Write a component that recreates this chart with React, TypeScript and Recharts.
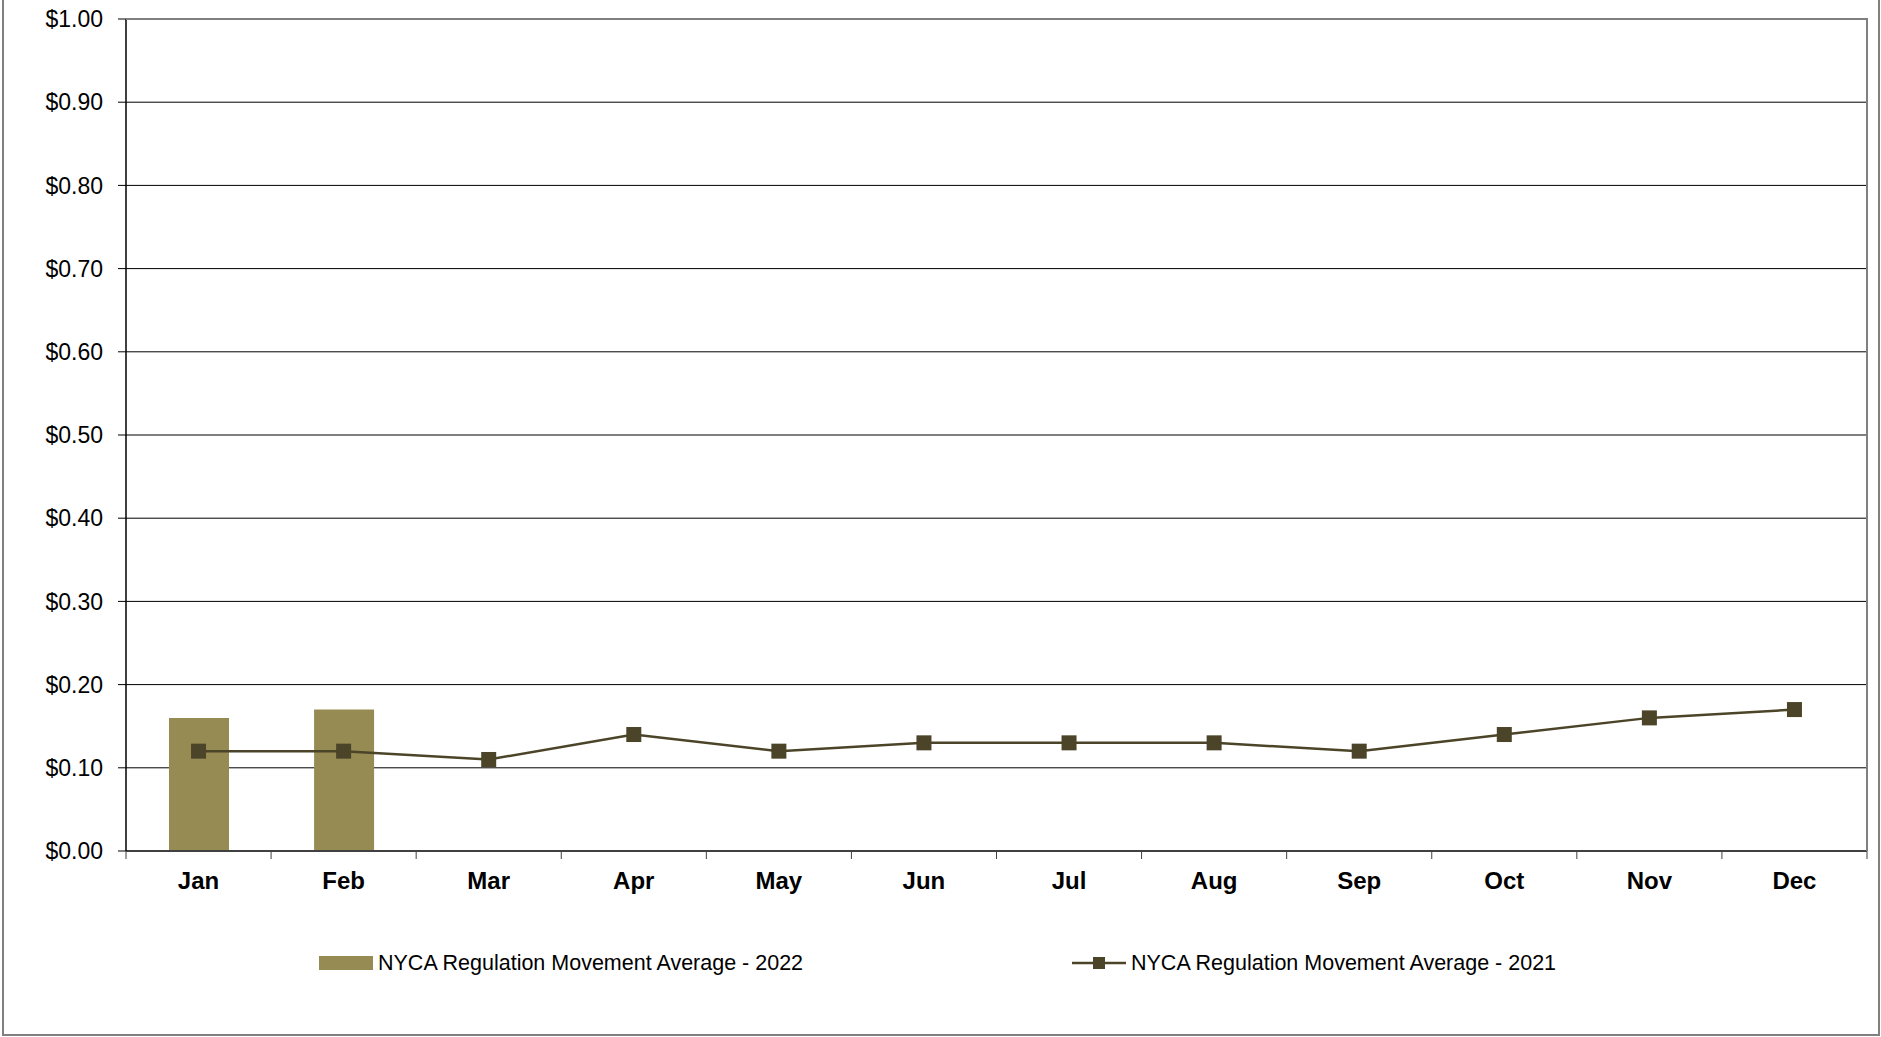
import React from 'react';
import { ComposedChart, Bar, Line, XAxis, YAxis, CartesianGrid } from 'recharts';

const MONTHS = ['Jan', 'Feb', 'Mar', 'Apr', 'May', 'Jun', 'Jul', 'Aug', 'Sep', 'Oct', 'Nov', 'Dec'];
const AVG_2022: (number | null)[] = [0.16, 0.17, null, null, null, null, null, null, null, null, null, null];
const AVG_2021 = [0.12, 0.12, 0.11, 0.14, 0.12, 0.13, 0.13, 0.13, 0.12, 0.14, 0.16, 0.17];
const Y_TICKS = [0, 0.1, 0.2, 0.3, 0.4, 0.5, 0.6, 0.7, 0.8, 0.9, 1.0];

const NAME_2022 = 'NYCA Regulation Movement Average - 2022';
const NAME_2021 = 'NYCA Regulation Movement Average - 2021';

const BAR_COLOR = '#978B54';
const LINE_COLOR = '#4B4428';
const FONT = 'Arial, "Liberation Sans", sans-serif';

const W = 1881;
const H = 1037;
const PLOT_LEFT = 126;
const PLOT_RIGHT = 1867;
const PLOT_TOP = 19;
const PLOT_BOTTOM = 851;
const HALF_BAND = (PLOT_RIGHT - PLOT_LEFT) / MONTHS.length / 2;

const data = MONTHS.map((m, i) => ({ month: m, v2022: AVG_2022[i], v2021: AVG_2021[i] }));

const SquareDot = (props: any) => {
  const { cx, cy } = props;
  if (cx == null || cy == null) return null;
  return <rect x={cx - 7.5} y={cy - 7.5} width={15} height={15} fill={LINE_COLOR} />;
};

const MonthTick = (props: any) => {
  const { x, y, payload, index } = props;
  const axisY = y - 8 - 13;
  return (
    <g>
      <line x1={x - HALF_BAND} x2={x - HALF_BAND} y1={axisY} y2={axisY + 8} stroke="#404040" strokeWidth={1} />
      {index === MONTHS.length - 1 && (
        <line x1={x + HALF_BAND} x2={x + HALF_BAND} y1={axisY} y2={axisY + 8} stroke="#404040" strokeWidth={1} />
      )}
      <text x={x} y={y} dy="0.71em" textAnchor="middle" fontFamily={FONT} fontSize={24} fontWeight="bold" fill="#000">
        {payload.value}
      </text>
    </g>
  );
};

export default function App() {
  return (
    <div style={{ position: 'absolute', left: 0, top: 0, width: W, height: H, background: '#fff', fontFamily: FONT }}>
      <ComposedChart
        width={W}
        height={H}
        data={data}
        margin={{ top: PLOT_TOP, right: W - PLOT_RIGHT, left: 0, bottom: H - PLOT_BOTTOM - 40 }}
      >
        <CartesianGrid vertical={false} stroke="#000" strokeWidth={1} />
        <XAxis
          dataKey="month"
          height={40}
          interval={0}
          tickSize={8}
          tickMargin={13}
          tickLine={{ stroke: 'transparent' }}
          axisLine={{ stroke: '#404040', strokeWidth: 2 }}
          tick={<MonthTick />}
        />
        <YAxis
          width={PLOT_LEFT}
          domain={[0, 1]}
          ticks={Y_TICKS}
          interval={0}
          tickSize={8}
          tickMargin={15}
          tickFormatter={(v: number) => `$${v.toFixed(2)}`}
          tick={{ fill: '#000', fontSize: 23, fontFamily: FONT }}
          tickLine={{ stroke: '#000' }}
          axisLine={{ stroke: '#000', strokeWidth: 1.5 }}
        />
        <Bar dataKey="v2022" name={NAME_2022} fill={BAR_COLOR} barSize={60} isAnimationActive={false} />
        <Line
          dataKey="v2021"
          name={NAME_2021}
          type="linear"
          stroke={LINE_COLOR}
          strokeWidth={2.5}
          dot={<SquareDot />}
          activeDot={false}
          isAnimationActive={false}
        />
      </ComposedChart>

      {/* plot area border (top and right) */}
      <div
        style={{
          position: 'absolute',
          left: PLOT_LEFT,
          top: PLOT_TOP - 1,
          width: PLOT_RIGHT - PLOT_LEFT + 1,
          height: PLOT_BOTTOM - PLOT_TOP + 1,
          borderTop: '2px solid #808080',
          borderRight: '2px solid #808080',
          boxSizing: 'border-box',
          pointerEvents: 'none',
        }}
      />

      {/* outer frame */}
      <div
        style={{
          position: 'absolute',
          left: 2,
          top: 0,
          width: 1878,
          height: 1036,
          borderLeft: '2px solid #808080',
          borderRight: '2px solid #808080',
          borderBottom: '2px solid #808080',
          boxSizing: 'border-box',
          pointerEvents: 'none',
        }}
      />

      {/* legend */}
      <div style={{ position: 'absolute', left: 319, top: 950, height: 26, display: 'flex', alignItems: 'center', fontSize: 21.5, color: '#000' }}>
        <span style={{ display: 'inline-block', width: 54, height: 14, background: BAR_COLOR, marginRight: 5 }} />
        <span>{NAME_2022}</span>
      </div>
      <div style={{ position: 'absolute', left: 1072, top: 950, height: 26, display: 'flex', alignItems: 'center', fontSize: 21.5, color: '#000' }}>
        <svg width={54} height={14} style={{ marginRight: 5 }}>
          <line x1={0} x2={54} y1={7} y2={7} stroke={LINE_COLOR} strokeWidth={2.5} />
          <rect x={21} y={1} width={12} height={12} fill={LINE_COLOR} />
        </svg>
        <span>{NAME_2021}</span>
      </div>
    </div>
  );
}
